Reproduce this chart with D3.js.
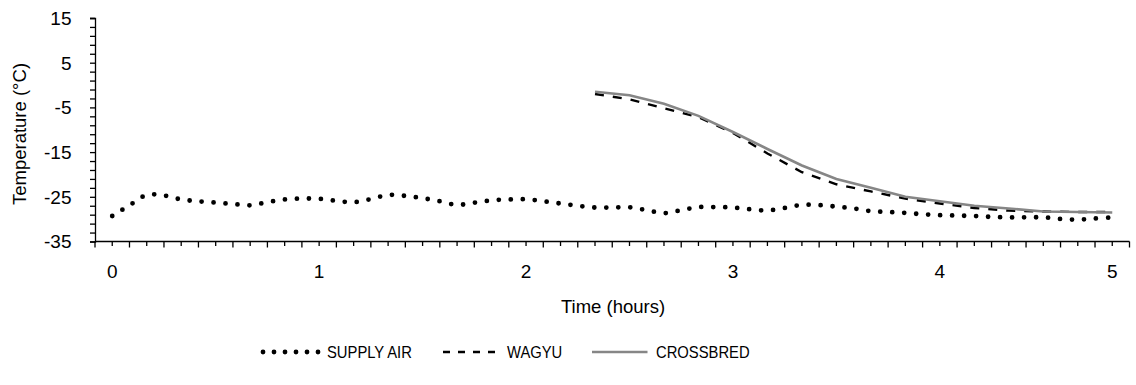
<!DOCTYPE html>
<html>
<head>
<meta charset="utf-8">
<script src="https://cdn.jsdelivr.net/npm/d3@7"></script>
<style>
  body { margin: 0; background: #fff; }
  svg { display: block; }
</style>
</head>
<body>
<svg id="chart" width="1136" height="385"></svg>
<script>
// data (time in minutes, temperature in °C)
const airMinutes = [0, 5, 10, 15, 20, 25, 30, 35, 40, 45, 50, 55, 60, 65, 70, 75, 80, 85, 90, 95,
  100, 105, 110, 115, 120, 125, 130, 135, 140, 145, 150, 155, 160, 165, 170, 175, 180, 185, 190, 195,
  200, 205, 210, 215, 220, 225, 230, 235, 240, 245, 250, 255, 260, 265, 270, 275, 280, 285, 290];
const supplyAir = [-29.3, -26.9, -24.6, -24.7, -25.6, -26.0, -26.3, -26.6, -26.9, -26.2,
  -25.6, -25.4, -25.45, -25.9, -26.2, -25.5, -24.6, -24.8, -25.3, -26.0,
  -26.8, -26.3, -25.8, -25.6, -25.55, -26.0, -26.5, -27.0, -27.4, -27.4,
  -27.35, -28.0, -28.65, -28.0, -27.3, -27.3, -27.4, -27.8, -28.05, -27.5,
  -26.8, -26.85, -27.2, -27.6, -28.2, -28.4, -28.6, -28.9, -29.1, -29.2,
  -29.3, -29.5, -29.6, -29.6, -29.6, -29.95, -30.1, -29.85, -29.6];

const carcassMinutes = [140, 150, 160, 170, 180, 190, 200, 210, 220, 230, 240, 250, 260, 270, 280, 290];
const wagyu = [-2.0, -3.2, -5.2, -7.2, -10.7, -15.3, -19.5, -22.2, -23.8, -25.4, -26.5, -27.5, -28.1, -28.3, -28.4, -28.4];
const crossbred = [-1.5, -2.3, -4.2, -6.9, -10.5, -14.3, -18.0, -21.0, -23.0, -25.0, -26.0, -27.0, -27.6, -28.3, -28.4, -28.5];

const xTickMinutes = [0, 60, 120, 180, 240, 290];
const xTickLabels = ["0", "1", "2", "3", "4", "5"];
const yTicks = [15, 5, -5, -15, -25, -35];

const series = [
  { name: "SUPPLY AIR", x: airMinutes, y: supplyAir },
  { name: "WAGYU", x: carcassMinutes, y: wagyu },
  { name: "CROSSBRED", x: carcassMinutes, y: crossbred }
];

// setup
const svg = d3.select("#chart");
const font = "'Liberation Sans', Arial, sans-serif";
const plotLeft = 95, plotRight = 1129.5, plotTop = 18, plotBottom = 241.5;

const x = d3.scaleLinear().domain([-5, 295]).range([plotLeft, plotRight]);
const y = d3.scaleLinear().domain([-35, 15]).range([plotBottom, plotTop]);

// y axis: minor ticks every 2 °C
const yAxis = svg.append("g")
  .attr("transform", `translate(${plotLeft},0)`)
  .call(d3.axisLeft(y).tickValues(d3.range(-35, 16, 2).concat([15])).tickSize(5).tickFormat(""));
yAxis.select(".domain").attr("stroke", "#000").attr("stroke-width", 1.3);
yAxis.selectAll("line").attr("stroke", "#000").attr("stroke-width", 1.3);

svg.append("g").selectAll("text")
  .data(yTicks)
  .join("text")
    .attr("x", 71.5)
    .attr("y", d => y(d))
    .attr("dy", "0.36em")
    .attr("text-anchor", "end")
    .attr("font-family", font)
    .attr("font-size", "19px")
    .attr("fill", "#000")
    .text(d => d);

// x axis: a tick every 5 min, slightly longer on the odd ones
const xAxis = svg.append("g")
  .attr("transform", `translate(0,${plotBottom})`);
xAxis.append("line")
  .attr("x1", plotLeft).attr("x2", plotRight)
  .attr("stroke", "#000").attr("stroke-width", 1.3);
xAxis.selectAll("line.tick")
  .data(d3.range(-5, 296, 5))
  .join("line")
    .attr("class", "tick")
    .attr("x1", d => x(d)).attr("x2", d => x(d))
    .attr("y1", 0)
    .attr("y2", d => (d / 5) % 2 === 0 ? 4.5 : 6)
    .attr("stroke", "#000").attr("stroke-width", 1.3);

svg.append("g").selectAll("text")
  .data(xTickMinutes)
  .join("text")
    .attr("x", d => x(d))
    .attr("y", 271)
    .attr("dy", "0.36em")
    .attr("text-anchor", "middle")
    .attr("font-family", font)
    .attr("font-size", "19px")
    .attr("fill", "#000")
    .text((d, i) => xTickLabels[i]);

// axis titles
svg.append("text")
  .attr("x", 613)
  .attr("y", 306)
  .attr("dy", "0.36em")
  .attr("text-anchor", "middle")
  .attr("font-family", font)
  .attr("font-size", "18.5px")
  .attr("fill", "#000")
  .text("Time (hours)");

svg.append("text")
  .attr("transform", `translate(19,134) rotate(-90)`)
  .attr("dy", "0.36em")
  .attr("text-anchor", "middle")
  .attr("font-family", font)
  .attr("font-size", "18.5px")
  .attr("fill", "#000")
  .text("Temperature (°C)");

// line styles
const styles = {
  "SUPPLY AIR": { stroke: "#000", width: 4.8, dash: "0 12", cap: "round", curve: d3.curveCatmullRom.alpha(0.5) },
  "WAGYU": { stroke: "#000", width: 2.4, dash: "9 9", cap: "butt", curve: d3.curveLinear },
  "CROSSBRED": { stroke: "#868686", width: 2.6, dash: null, cap: "butt", curve: d3.curveLinear }
};

series.forEach(s => {
  const st = styles[s.name];
  const pts = s.x.map((t, i) => [t, s.y[i]]);
  const line = d3.line().x(d => x(d[0])).y(d => y(d[1])).curve(st.curve);
  svg.append("path")
    .datum(pts)
    .attr("fill", "none")
    .attr("stroke", st.stroke)
    .attr("stroke-width", st.width)
    .attr("stroke-linecap", st.cap)
    .attr("stroke-dasharray", st.dash)
    .attr("d", line);
});

// legend (text condensed to look like the narrow face)
const legendX = [263, 443, 592];
const legend = svg.append("g").attr("transform", "translate(0,352)");
series.forEach((s, i) => {
  const st = styles[s.name];
  legend.append("line")
    .attr("x1", legendX[i]).attr("x2", legendX[i] + 55.5)
    .attr("stroke", st.stroke)
    .attr("stroke-width", st.width)
    .attr("stroke-linecap", st.cap)
    .attr("stroke-dasharray", s.name === "WAGYU" ? "7 8" : (s.name === "SUPPLY AIR" ? "0 11" : null));
  legend.append("text")
    .attr("transform", `translate(${legendX[i] + 64},0) scale(0.87,1)`)
    .attr("dy", "0.36em")
    .attr("font-family", font)
    .attr("font-size", "17px")
    .attr("fill", "#000")
    .text(s.name);
});
</script>
</body>
</html>
